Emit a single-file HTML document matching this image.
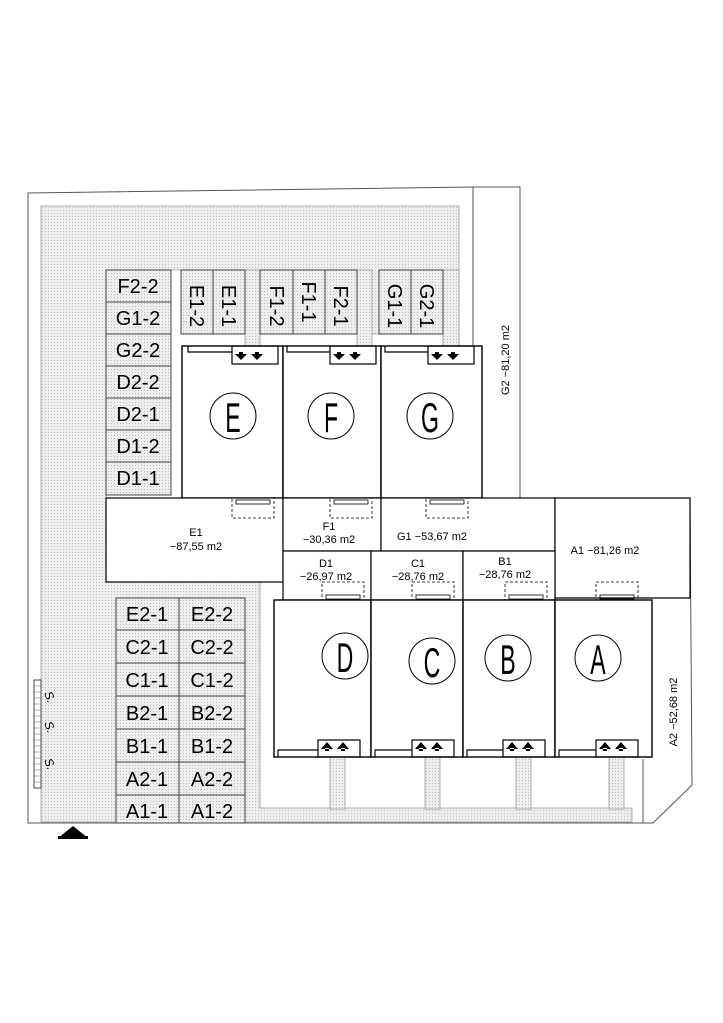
<!DOCTYPE html>
<html><head><meta charset="utf-8"><style>
html,body{margin:0;padding:0;background:#fff;}
svg{display:block;}
text{font-family:"Liberation Sans",sans-serif;}
.sm{font-size:11px;}
</style></head><body>
<svg width="723" height="1023" viewBox="0 0 723 1023" xmlns="http://www.w3.org/2000/svg">
<defs>
<pattern id="h" width="3" height="3" patternUnits="userSpaceOnUse">
<rect width="3" height="3" fill="#eeeeee"/><rect width="1" height="1" fill="#bdbdbd"/>
</pattern>
</defs>
<g stroke="#000" fill="none" stroke-width="1">
<g fill="url(#h)" stroke="#999" stroke-width="0.8">
<path d="M41,206 L459,206 L459,346 L443,346 L443,334 L181,334 L181,270 L106,270 L106,582 L260,582 L260,808 L632,808 L632,822 L41,822 Z"/>
<rect x="245" y="270" width="15" height="76"/>
<rect x="357" y="270" width="15" height="76"/>
<rect x="443" y="270" width="16" height="76"/>
<rect x="330" y="757" width="15" height="52"/>
<rect x="425" y="757" width="15" height="52"/>
<rect x="516" y="757" width="15" height="52"/>
<rect x="609" y="757" width="15" height="52"/>
</g>
<path d="M28,193 L473,187 L520,187 L520,498 L690,498 L692,785 L653,823 L28,823 Z" stroke="#555"/>
<line x1="473" y1="187" x2="473" y2="346" stroke="#555"/>
<line x1="643" y1="759" x2="643" y2="823" stroke="#555"/>
<line x1="652" y1="598" x2="690" y2="598" stroke="#555"/>
<g fill="url(#h)" stroke="#444">
<rect x="106" y="270" width="65" height="32"/><rect x="106" y="302" width="65" height="32"/>
<rect x="106" y="334" width="65" height="32"/><rect x="106" y="366" width="65" height="32"/>
<rect x="106" y="398" width="65" height="32"/><rect x="106" y="430" width="65" height="32"/>
<rect x="106" y="462" width="65" height="33"/>
<rect x="181" y="270" width="32" height="64"/><rect x="213" y="270" width="32" height="64"/>
<rect x="260" y="270" width="33" height="64"/><rect x="293" y="270" width="32" height="64"/><rect x="325" y="270" width="32" height="64"/>
<rect x="379" y="270" width="32" height="64"/><rect x="411" y="270" width="32" height="64"/>
</g>
<g fill="url(#h)" stroke="#444">
<rect x="116" y="598" width="63" height="32"/><rect x="179" y="598" width="66" height="32"/>
<rect x="116" y="630" width="63" height="33"/><rect x="179" y="630" width="66" height="33"/>
<rect x="116" y="663" width="63" height="33"/><rect x="179" y="663" width="66" height="33"/>
<rect x="116" y="696" width="63" height="33"/><rect x="179" y="696" width="66" height="33"/>
<rect x="116" y="729" width="63" height="33"/><rect x="179" y="729" width="66" height="33"/>
<rect x="116" y="762" width="63" height="33"/><rect x="179" y="762" width="66" height="33"/>
<rect x="116" y="795" width="63" height="28"/><rect x="179" y="795" width="66" height="28"/>
</g>
<g stroke-width="1.4" fill="#fff">
<rect x="182" y="346" width="101" height="152"/>
<rect x="283" y="346" width="98" height="152"/>
<rect x="381" y="346" width="101" height="152"/>
</g>
<g stroke-width="1.2">
<path d="M188,346 V352 H232"/><rect x="232" y="346" width="46" height="18"/>
<path d="M287,346 V352 H330"/><rect x="330" y="346" width="46" height="18"/>
<path d="M385,346 V352 H428"/><rect x="428" y="346" width="46" height="18"/>
</g>
<g fill="#000" stroke="none">
<path d="M235,354 h12 l-6,6z M239,352 h4 v3 h-4z M251,354 h12 l-6,6z M255,352 h4 v3 h-4z"/>
<path d="M333,354 h12 l-6,6z M337,352 h4 v3 h-4z M349,354 h12 l-6,6z M353,352 h4 v3 h-4z"/>
<path d="M431,354 h12 l-6,6z M435,352 h4 v3 h-4z M447,354 h12 l-6,6z M451,352 h4 v3 h-4z"/>
</g>
<circle cx="233" cy="416" r="23"/><circle cx="331" cy="416" r="23"/><circle cx="430" cy="416" r="23"/>
<g stroke-width="1.2" fill="#fff">
<rect x="106" y="498" width="177" height="84"/>
<rect x="283" y="498" width="98" height="53"/>
<rect x="381" y="498" width="174" height="53"/>
<path d="M555,498 H690 V598 H555 Z"/>
<rect x="283" y="551" width="88" height="49"/>
<rect x="371" y="551" width="92" height="49"/>
<rect x="463" y="551" width="92" height="49"/>
</g>
<g stroke-dasharray="3,2" stroke-width="0.8">
<rect x="232" y="498" width="42" height="20"/><rect x="330" y="498" width="42" height="20"/><rect x="426" y="498" width="42" height="20"/>
<rect x="322" y="582" width="42" height="18"/><rect x="412" y="582" width="42" height="18"/><rect x="505" y="582" width="42" height="18"/><rect x="596" y="582" width="42" height="18"/>
</g>
<g stroke-width="0.8">
<rect x="236" y="500" width="34" height="4"/><rect x="334" y="500" width="34" height="4"/><rect x="430" y="500" width="34" height="4"/>
<rect x="326" y="595" width="34" height="4"/><rect x="416" y="595" width="34" height="4"/><rect x="509" y="595" width="34" height="4"/><rect x="600" y="595" width="34" height="4"/>
</g>
<g stroke-width="1.4" fill="#fff">
<rect x="274" y="600" width="97" height="157"/>
<rect x="371" y="600" width="92" height="157"/>
<rect x="463" y="600" width="92" height="157"/>
<rect x="555" y="600" width="97" height="157"/>
</g>
<g stroke-width="1.2">
<path d="M278,757 V750 H318"/><rect x="318" y="740" width="42" height="17"/>
<path d="M375,757 V750 H412"/><rect x="412" y="740" width="42" height="17"/>
<path d="M467,757 V750 H503"/><rect x="503" y="740" width="42" height="17"/>
<path d="M559,757 V750 H596"/><rect x="596" y="740" width="42" height="17"/>
</g>
<g fill="#000" stroke="none">
<path d="M321,749 h12 l-6,-7z M325,748 h4 v3 h-4z M337,749 h12 l-6,-7z M341,748 h4 v3 h-4z"/>
<path d="M415,749 h12 l-6,-7z M419,748 h4 v3 h-4z M431,749 h12 l-6,-7z M435,748 h4 v3 h-4z"/>
<path d="M506,749 h12 l-6,-7z M510,748 h4 v3 h-4z M522,749 h12 l-6,-7z M526,748 h4 v3 h-4z"/>
<path d="M599,749 h12 l-6,-7z M603,748 h4 v3 h-4z M615,749 h12 l-6,-7z M619,748 h4 v3 h-4z"/>
</g>
<circle cx="345" cy="656" r="23"/><circle cx="432" cy="661" r="23"/><circle cx="508" cy="658" r="23"/><circle cx="598" cy="658" r="23"/>
<rect x="34" y="680" width="7" height="108" stroke="#444"/>
<path d="M34,686h7M34,692h7M34,698h7M34,704h7M34,710h7M34,716h7M34,722h7M34,728h7M34,734h7M34,740h7M34,746h7M34,752h7M34,758h7M34,764h7M34,770h7M34,776h7M34,782h7" stroke="#666" stroke-width="0.6"/>
</g>
<path d="M58,838 L73,826 L88,838 Z" fill="#000"/><rect x="58" y="836" width="30" height="3" fill="#000"/>
<g font-size="42" text-anchor="middle" fill="#000" font-weight="normal">
<text transform="translate(233,432) scale(0.55,1)">E</text>
<text transform="translate(331,432) scale(0.55,1)">F</text>
<text transform="translate(430,432) scale(0.55,1)">G</text>
<text transform="translate(345,672) scale(0.55,1)">D</text>
<text transform="translate(432,677) scale(0.55,1)">C</text>
<text transform="translate(508,674) scale(0.55,1)">B</text>
<text transform="translate(598,674) scale(0.55,1)">A</text>
</g>
<g font-size="20" text-anchor="middle" fill="#000">
<text x="138" y="293">F2-2</text><text x="138" y="325">G1-2</text><text x="138" y="357">G2-2</text>
<text x="138" y="389">D2-2</text><text x="138" y="421">D2-1</text><text x="138" y="453">D1-2</text><text x="138" y="485">D1-1</text>
<text x="147" y="621">E2-1</text><text x="212" y="621">E2-2</text>
<text x="147" y="654">C2-1</text><text x="212" y="654">C2-2</text>
<text x="147" y="687">C1-1</text><text x="212" y="687">C1-2</text>
<text x="147" y="720">B2-1</text><text x="212" y="720">B2-2</text>
<text x="147" y="753">B1-1</text><text x="212" y="753">B1-2</text>
<text x="147" y="786">A2-1</text><text x="212" y="786">A2-2</text>
<text x="147" y="818">A1-1</text><text x="212" y="818">A1-2</text>
</g>
<g font-size="20" fill="#000">
<text transform="translate(190,306) rotate(90)" text-anchor="middle">E1-2</text>
<text transform="translate(222,306) rotate(90)" text-anchor="middle">E1-1</text>
<text transform="translate(270,306) rotate(90)" text-anchor="middle">F1-2</text>
<text transform="translate(302,302) rotate(90)" text-anchor="middle">F1-1</text>
<text transform="translate(334,306) rotate(90)" text-anchor="middle">F2-1</text>
<text transform="translate(388,306) rotate(90)" text-anchor="middle">G1-1</text>
<text transform="translate(420,306) rotate(90)" text-anchor="middle">G2-1</text>
</g>
<g class="sm" fill="#000" text-anchor="middle">
<text x="196" y="536">E1</text><text x="196" y="550">−87,55  m2</text>
<text x="329" y="530">F1</text><text x="329" y="543">−30,36  m2</text>
<text x="432" y="540">G1  −53,67  m2</text>
<text x="605" y="554">A1  −81,26  m2</text>
<text x="326" y="567">D1</text><text x="326" y="580">−26,97  m2</text>
<text x="418" y="567">C1</text><text x="418" y="580">−28,76  m2</text>
<text x="505" y="565">B1</text><text x="505" y="578">−28,76  m2</text>
<text transform="translate(509,360) rotate(-90)">G2  −81,20  m2</text>
<text transform="translate(677,712) rotate(-90)">A2  −52,68  m2</text>
</g>
<g font-size="12" fill="#000" font-style="italic">
<text transform="translate(44,693) rotate(70)">S.</text>
<text transform="translate(44,723) rotate(70)">S.</text>
<text transform="translate(44,760) rotate(70)">S.</text>
</g>
</svg>
</body></html>
